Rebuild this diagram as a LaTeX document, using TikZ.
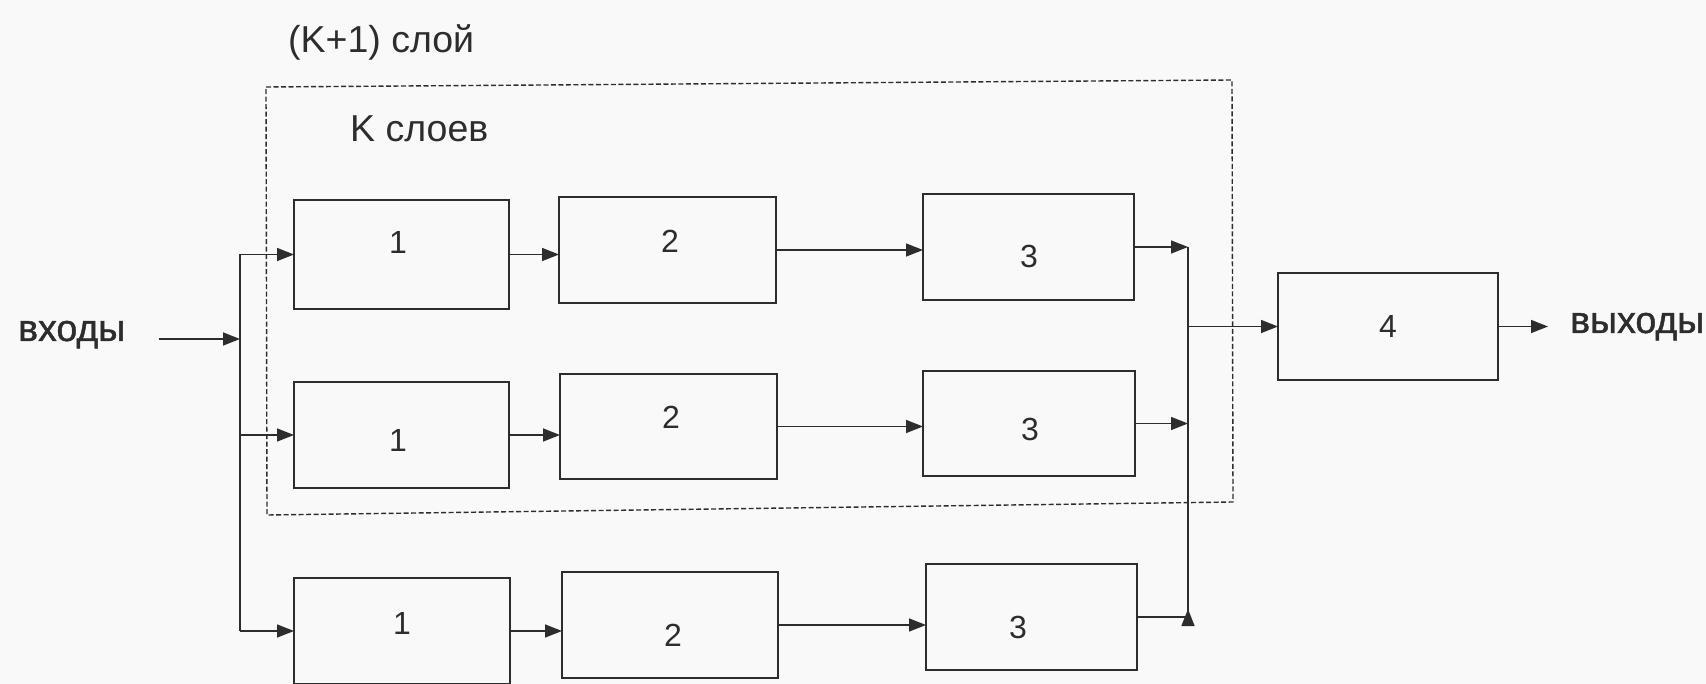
\documentclass[tikz,border=0pt]{standalone}
\usepackage{fontspec}
\setmainfont{Liberation Sans}
\newfontfamily\heavysans[BoldFont={Liberation Sans}, BoldFeatures={FakeBold=1.2}]{Liberation Sans}
\usetikzlibrary{arrows.meta,calc}
\definecolor{ink}{RGB}{45,45,45}
\definecolor{paper}{RGB}{249,249,249}
\tikzset{
  blk/.style={draw=ink, line width=2.7pt, fill=none, inner sep=0pt, outer sep=0pt},
  digit/.style={font=\fontsize{32}{38}\selectfont, text=ink, inner sep=0pt},
  lbl/.style={font=\fontsize{37.5}{44}\selectfont, text=ink, inner sep=0pt, anchor=base west},
  iolbl/.style={lbl, font=\fontsize{37.5}{44}\heavysans\bfseries},
  wire/.style={draw=ink, line width=1.5pt},
  conn/.style={wire, -{Triangle[length=17pt,width=13pt]}},
  frame/.style={draw=ink, line width=1.4pt, dash pattern=on 5pt off 2.5pt}
}
\begin{document}
\begin{tikzpicture}[x=1pt,y=-1pt]
  % page
  \fill[paper] (0,0) rectangle (1706,684);
  \useasboundingbox (0,0) rectangle (1706,684);

  % dashed frame of the first K layers
  \draw[frame] (266,87) -- (1232,80) -- (1233,502) -- (267,515) -- cycle;

  % headings
  \node[lbl] (hk1) at (288,53) {(K+1) слой};
  \node[lbl] (hk)  at (350,142) {K слоев};
  \node[iolbl] (tin) at (18,341) {входы};
  \node[iolbl] (tout) at (1570,333) {выходы};

  % row 1
  \node[blk, minimum width=215pt, minimum height=109pt] (A1) at (401.5,254.5) {};
  \node[blk, minimum width=217pt, minimum height=106pt] (B1) at (667.5,250) {};
  \node[blk, minimum width=211pt, minimum height=106pt] (C1) at (1028.5,247) {};
  % row 2
  \node[blk, minimum width=215pt, minimum height=106pt] (A2) at (401.5,435) {};
  \node[blk, minimum width=217pt, minimum height=105pt] (B2) at (668.5,426.5) {};
  \node[blk, minimum width=212pt, minimum height=105pt] (C2) at (1029,423.5) {};
  % row 3
  \node[blk, minimum width=216pt, minimum height=106pt] (A3) at (402,631) {};
  \node[blk, minimum width=216pt, minimum height=106pt] (B3) at (670,625) {};
  \node[blk, minimum width=211pt, minimum height=106pt] (C3) at (1031.5,617) {};
  % output block
  \node[blk, minimum width=220pt, minimum height=107pt] (D) at (1388,326.5) {};

  % block numbers
  \node[digit] (nA1) at (398,242) {1};
  \node[digit] (nB1) at (670,241) {2};
  \node[digit] (nC1) at (1029,256) {3};
  \node[digit] (nA2) at (398,440) {1};
  \node[digit] (nB2) at (671,417) {2};
  \node[digit] (nC2) at (1030,429) {3};
  \node[digit] (nA3) at (402,623) {1};
  \node[digit] (nB3) at (673,635) {2};
  \node[digit] (nC3) at (1018,627) {3};
  \node[digit] (nD)  at (1388,326) {4};

  % bus lines and free ends
  \coordinate (bus1) at (240,0);
  \coordinate (bus2) at (1188,0);
  \coordinate (inL)  at (159,339);
  \coordinate (outR) at (1548,328);

  % inputs
  \draw[conn] (inL) -- (inL -| bus1);
  \draw[wire] (A1.west -| bus1) -- (A3.west -| bus1);
  \foreach \r in {1,2,3}{
    \draw[conn] (A\r.west -| bus1) -- (A\r.west);
    \draw[conn] (A\r.east) -- (A\r.east -| B\r.west);
    \draw[conn] (B\r.east) -- (B\r.east -| C\r.west);
  }

  % outputs of the third blocks
  \draw[conn] (C1.east) -- (C1.east -| bus2);
  \draw[conn] (C2.east) -- (C2.east -| bus2);
  \draw[wire] (C1.east -| bus2) -- (C3.east -| bus2);
  \draw[conn] (C3.east) -| ($(C3.east -| bus2)+(0,-8)$);

  % output block
  \draw[conn] (D.west -| bus2) -- (D.west);
  \draw[conn] (D.east) -- (D.east -| outR);
\end{tikzpicture}
\end{document}
